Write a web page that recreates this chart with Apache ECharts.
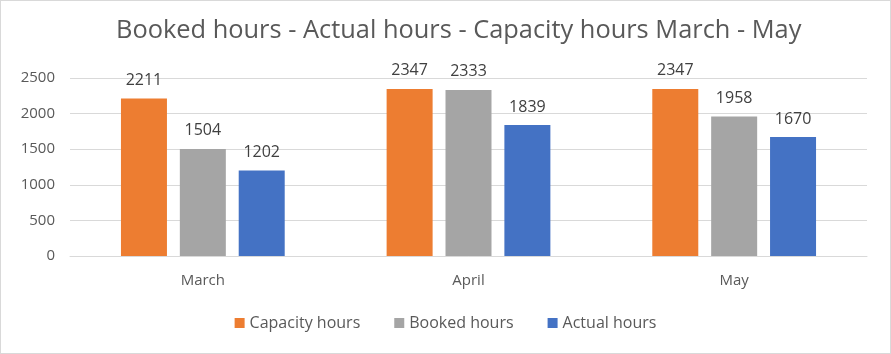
<!DOCTYPE html>
<html>
<head>
<meta charset="utf-8">
<script src="https://cdn.jsdelivr.net/npm/echarts@6/dist/echarts.min.js"></script>
<style>
  html, body { margin: 0; padding: 0; background: #fff; }
  #main { width: 889px; height: 352px; border: 1px solid #D9D9D9; }
</style>
</head>
<body>
<div id="main"></div>
<script>
// 数据
var months = ['March', 'April', 'May'];
var capacityHours = [2211, 2347, 2347];
var bookedHours = [1504, 2333, 1958];
var actualHours = [1202, 1839, 1670];

var fontName = 'Open Sans';
var myChart = echarts.init(document.getElementById('main'));

function makeSeries(name, data, color) {
    return {
        name: name,
        type: 'bar',
        data: data,
        barWidth: 46,
        barGap: '28%',
        itemStyle: { color: color },
        label: {
            show: true,
            position: 'top',
            distance: 10,
            color: '#404040',
            fontFamily: fontName,
            fontSize: 16
        }
    };
}

var option = {
    backgroundColor: '#fff',
    animation: false,
    title: {
        text: 'Booked hours - Actual hours - Capacity hours March - May',
        left: 110,
        top: 12,
        textStyle: {
            color: '#595959',
            fontFamily: fontName,
            fontWeight: 'normal',
            fontSize: 25.4
        }
    },
    legend: {
        bottom: 17,
        left: 'center',
        itemWidth: 10,
        itemHeight: 10,
        itemGap: 34,
        icon: 'rect',
        textStyle: { color: '#595959', fontFamily: fontName, fontSize: 16 }
    },
    grid: { left: 69, right: 23, top: 77, bottom: 97 },
    xAxis: {
        type: 'category',
        data: months,
        axisLine: { lineStyle: { color: '#D9D9D9' } },
        axisTick: { show: false },
        axisLabel: { color: '#595959', fontFamily: fontName, fontSize: 15, margin: 17 }
    },
    yAxis: {
        type: 'value',
        min: 0,
        max: 2500,
        interval: 500,
        axisLine: { show: false },
        axisTick: { show: false },
        splitLine: { lineStyle: { color: '#D9D9D9' } },
        axisLabel: {
            color: '#595959',
            fontFamily: fontName,
            fontSize: 15,
            margin: 15,
            formatter: function (v) { return String(v); }
        }
    },
    series: [
        makeSeries('Capacity hours', capacityHours, '#ED7D31'),
        makeSeries('Booked hours', bookedHours, '#A5A5A5'),
        makeSeries('Actual hours', actualHours, '#4472C4')
    ]
};

myChart.setOption(option);
</script>
</body>
</html>
